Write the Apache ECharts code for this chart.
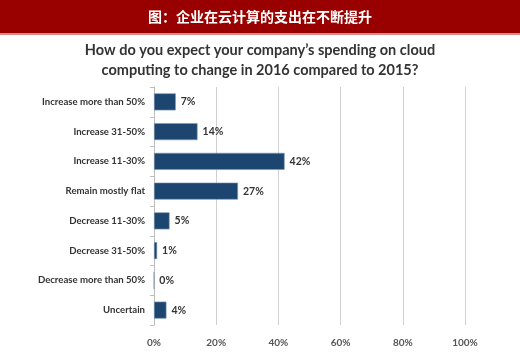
<!DOCTYPE html>
<html><head><meta charset="utf-8">
<script src="https://cdn.jsdelivr.net/npm/echarts@6/dist/echarts.min.js"></script>
<style>html,body{margin:0;padding:0;background:#fff}#c{width:520px;height:360px}</style>
</head><body><div id="c"></div>
<script>
const categories = ["Increase more than 50%","Increase 31-50%","Increase 11-30%","Remain mostly flat","Decrease 11-30%","Decrease 31-50%","Decrease more than 50%","Uncertain"];
const values = [7,14,42,27,5,1,0,4];
const xTicks = [0,20,40,60,80,100];
const headerText = "图：企业在云计算的支出在不断提升";
const chartTitle = "How do you expect your company’s spending on cloud\ncomputing to change in 2016 compared to 2015?";

const chart = echarts.init(document.getElementById('c'));
chart.setOption({
  animation:false,
  graphic:[
    {type:'rect',shape:{x:0,y:0,width:520,height:33},style:{fill:'#990000'}},
    {type:'rect',shape:{x:0,y:33,width:520,height:2},style:{fill:'#d98c8c'}},
    {type:'text',x:260,y:17,style:{text:headerText,fill:'#fff',font:'bold 14px "Noto Sans CJK SC"',textAlign:'center',textVerticalAlign:'middle'}}
  ],
  title:{text:chartTitle,left:'center',top:35,textStyle:{fontFamily:'Lato',fontWeight:'bold',fontSize:14.5,color:'#333',lineHeight:20}},
  grid:{left:154,right:55,top:87,bottom:35,containLabel:false},
  xAxis:{type:'value',min:0,max:100,interval:20,
    axisLine:{show:false},axisTick:{show:false},
    splitLine:{show:true,lineStyle:{color:'#d0d0d0',width:1}},
    axisLabel:{formatter:v=>xTicks.includes(v)?v+'%':'',fontFamily:'Lato',fontWeight:'bold',fontSize:10,color:'#555',margin:13}},
  yAxis:{type:'category',inverse:true,data:categories,
    axisLine:{show:true,lineStyle:{color:'#bdbdbd'}},
    axisTick:{show:true,length:4,lineStyle:{color:'#bdbdbd'}},
    axisLabel:{fontFamily:'Lato',fontWeight:'bold',fontSize:9.6,color:'#333',margin:9}},
  series:[{type:'bar',data:values,barWidth:17,
    itemStyle:{color:'#1c4570',borderColor:'#7f98b3',borderWidth:0.6},
    label:{show:true,position:'right',formatter:p=>p.value+'%',fontFamily:'Lato',fontWeight:'bold',fontSize:10.5,color:'#333',distance:5}}]
});
</script></body></html>
